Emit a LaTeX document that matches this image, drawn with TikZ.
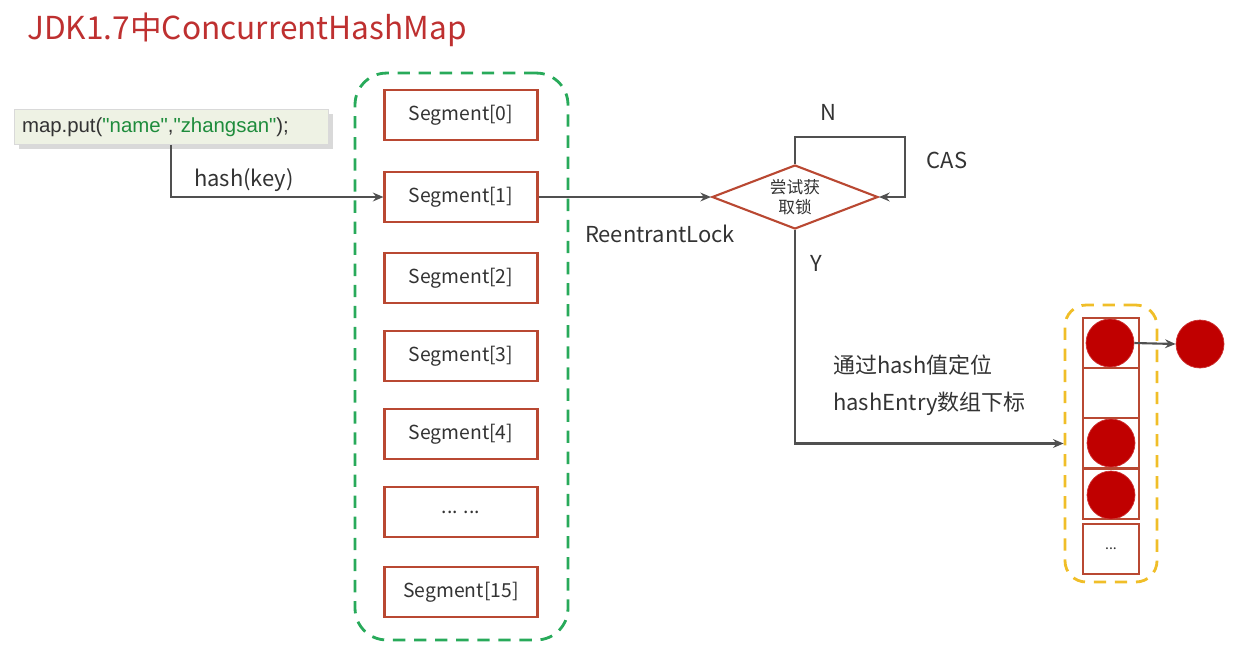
\documentclass[tikz,border=0pt]{standalone}
\usepackage{fontspec}
\setmainfont{Noto Sans CJK SC}
\newfontfamily\codefont{Liberation Sans}
\usepackage{tikz}
\usetikzlibrary{arrows.meta,shapes.geometric,positioning,shadows}
\definecolor{titlered}{RGB}{190,48,48}
\definecolor{boxred}{RGB}{185,72,50}
\definecolor{dotred}{RGB}{192,0,0}
\definecolor{segbound}{RGB}{40,170,90}
\definecolor{bktbound}{RGB}{240,190,40}
\definecolor{linegray}{RGB}{80,80,80}
\definecolor{codefill}{RGB}{238,242,228}
\definecolor{strgreen}{RGB}{30,140,60}

\begin{document}
\begin{tikzpicture}[
  x=0.02cm, y=-0.02cm,
  every node/.style={font=\fontsize{12.5}{15}\selectfont, text=black!80},
  segbox/.style={draw=boxred, line width=1.2pt, fill=white, minimum width=3.06cm,
                 minimum height=1.0cm, inner sep=0pt,
                 font=\fontsize{11}{13}\selectfont},
  cell/.style={draw=boxred, line width=1.2pt, minimum width=1.12cm,
               minimum height=1.0cm, inner sep=0pt,
               font=\fontsize{8}{9}\selectfont},
  entry/.style={circle, fill=dotred, draw=dotred!80!white, minimum size=0.96cm,
                inner sep=0pt},
  arrow/.style={-{Stealth[length=6pt,width=5pt]}, line width=1.2pt, linegray},
]
\useasboundingbox (0,0) rectangle (1248,667);

%% -- Title -------------------------------------------------------------------
\node[anchor=west, text=titlered, font=\fontsize{18}{22}\selectfont]
  (title) at (21,30) {JDK1.7中ConcurrentHashMap};

%% -- Caller ------------------------------------------------------------------
\node[fill=codefill, draw=black!15, drop shadow={opacity=0.3},
      text width=5.96cm, inner xsep=0.16cm, minimum height=0.7cm, inner ysep=0pt,
      align=left, font=\codefont\fontsize{11.6}{14}\selectfont]
  (code) at (171,127)
  {map.put(\textcolor{strgreen}{\textquotedbl name\textquotedbl},%
   \textcolor{strgreen}{\textquotedbl zhangsan\textquotedbl});};

%% -- Segment array -----------------------------------------------------------
\node[draw=segbound, line width=1.6pt, dash pattern=on 7pt off 5pt,
      rounded corners=18pt, minimum width=4.26cm, minimum height=11.34cm]
  (segs) at (461.5,356.5) {};
\node[segbox] (seg0)  at (461,115) {Segment[0]};
\node[segbox] (seg1)  at (461,197) {Segment[1]};
\node[segbox] (seg2)  at (461,278) {Segment[2]};
\node[segbox] (seg3)  at (461,356) {Segment[3]};
\node[segbox] (seg4)  at (461,434) {Segment[4]};
\node[segbox] (segx)  at (461,512) {... ...};
\node[segbox] (seg15) at (461,592) {Segment[15]};

\draw[arrow] (code.south) |- (seg1.west);
\node (hashlbl) at (244,180) {hash(key)};

%% -- Lock attempt ------------------------------------------------------------
\node[diamond, draw=boxred, line width=1.2pt, aspect=2.6, minimum width=3.32cm,
      minimum height=1.28cm, inner sep=0pt, align=center,
      font=\fontsize{9.5}{11}\selectfont]
  (lock) at (795,197) {尝试获\\取锁};
\draw[arrow] (seg1.east) -- (lock.west);
\node (rlock) at (660,234) {ReentrantLock};

\coordinate (loopc) at (905,137);
\draw[arrow] (lock.north) |- (loopc) |- (lock.east);
\node (nlbl)   at (828,112) {N};
\node (caslbl) at (947,160) {CAS};

%% -- HashEntry table ---------------------------------------------------------
\node[draw=bktbound, line width=1.6pt, dash pattern=on 7pt off 5pt,
      rounded corners=12pt, minimum width=1.84cm, minimum height=5.54cm]
  (bucket) at (1111,443.5) {};
\node[cell] (c0) at (1111,343) {};
\node[cell] (c1) at (1111,393) {};
\node[cell] (c2) at (1111,443) {};
\node[cell] (c3) at (1111,494) {};
\node[cell] (c4) at (1111,549) {...};
\node[entry] (e0) at (1110,343) {};
\node[entry] (e2) at (1111,443) {};
\node[entry] (e3) at (1111,495) {};
\node[entry] (next) at (1200,344) {};
\draw[arrow] (e0.east) -- (next.west);

\draw[arrow] (lock.south) |- (bucket.west);
\node (ylbl) at (816,263) {Y};
\node[anchor=west] (loc1) at (827,365) {通过hash值定位};
\node[anchor=west] (loc2) at (827,404) {hashEntry数组下标};

\end{tikzpicture}
\end{document}
